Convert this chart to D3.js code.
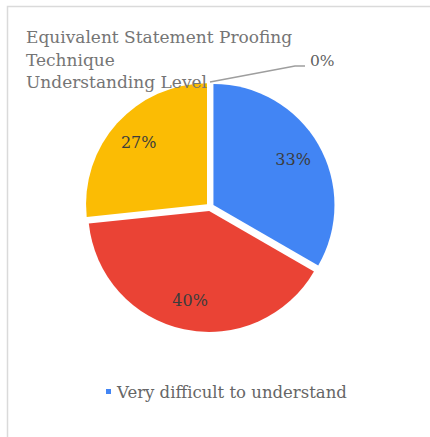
<!DOCTYPE html>
<html>
<head>
<meta charset="utf-8">
<script src="https://cdn.jsdelivr.net/npm/d3@7"></script>
<style>
  html, body { margin: 0; padding: 0; background: #fff; }
  svg { display: block; }
</style>
</head>
<body>
<svg id="chart" width="430" height="437"></svg>
<script>
// Responses per understanding level
const categories = [
  "Very difficult to understand",
  "Difficult to understand",
  "Easy to understand",
  "Very easy to understand"
];
const counts = [5, 6, 4, 0];
const colors = ["#4285f4", "#ea4335", "#fbbc04", "#34a853"];
const titleLines = ["Equivalent Statement Proofing", "Technique", "Understanding Level"];
const legendShown = [0];

const svg = d3.select("#chart");
const W = 430, H = 437;
const serif = "'DejaVu Serif', 'Liberation Serif', serif";

// Card frame
svg.append("path")
  .attr("d", `M7.5,${H} L7.5,6.5 L${W},6.5`)
  .attr("fill", "none")
  .attr("stroke", "#dadada")
  .attr("stroke-width", 1.5);

const cx = 210, cy = 207, r = 121, explode = 4;

const total = d3.sum(counts);
const pie = d3.pie().value(d => d).sort(null);
const arcs = pie(counts);
const arc = d3.arc().innerRadius(0).outerRadius(r);
const labelArc = d3.arc().innerRadius(r * 0.76).outerRadius(r * 0.76);
const pct = d3.format(".0%");

const g = svg.append("g").attr("transform", `translate(${cx},${cy})`);

const slice = g.selectAll("g.slice")
  .data(arcs)
  .join("g")
  .attr("class", "slice")
  .attr("transform", d => {
    const a = (d.startAngle + d.endAngle) / 2;
    return `translate(${Math.sin(a) * explode},${-Math.cos(a) * explode})`;
  });

slice.filter(d => d.value > 0)
  .append("path")
  .attr("d", arc)
  .attr("fill", (d, i) => colors[d.index]);

slice.filter(d => d.value > 0)
  .append("text")
  .attr("transform", d => `translate(${labelArc.centroid(d)})`)
  .attr("text-anchor", "middle")
  .attr("dy", "0.35em")
  .attr("font-family", serif)
  .attr("font-size", 16)
  .attr("fill", "#3c3c3c")
  .text(d => pct(d.value / total));

// Zero-value slices get an outside label with a leader line
const zero = arcs.filter(d => d.value === 0);
zero.forEach(d => {
  const a = d.startAngle;
  const p0 = [Math.sin(a) * (r + 4), -Math.cos(a) * (r + 4)];
  const p1 = [85, -141];
  const p2 = [95, -141];
  g.append("polyline")
    .attr("points", [p0, p1, p2].map(p => p.join(",")).join(" "))
    .attr("fill", "none")
    .attr("stroke", "#9e9e9e")
    .attr("stroke-width", 1.5);
  g.append("text")
    .attr("x", p2[0] + 5)
    .attr("y", p2[1] - 5)
    .attr("dy", "0.35em")
    .attr("font-family", serif)
    .attr("font-size", 15.5)
    .attr("fill", "#5f5f5f")
    .text(pct(d.value / total));
});

// Title
svg.append("g")
  .selectAll("text")
  .data(titleLines)
  .join("text")
  .attr("x", 26)
  .attr("y", (d, i) => 43 + i * 22.5)
  .attr("font-family", serif)
  .attr("font-size", 17)
  .attr("fill", "#757575")
  .text(d => d);

// Legend
const legend = svg.append("g").attr("transform", "translate(106,392)");
legendShown.forEach((k, i) => {
  legend.append("rect")
    .attr("x", 0).attr("y", -3)
    .attr("width", 5).attr("height", 5)
    .attr("fill", colors[k]);
  legend.append("text")
    .attr("x", 11)
    .attr("y", 0)
    .attr("dy", "0.35em")
    .attr("font-family", serif)
    .attr("font-size", 16.5)
    .attr("fill", "#666")
    .text(categories[k]);
});
</script>
</body>
</html>
